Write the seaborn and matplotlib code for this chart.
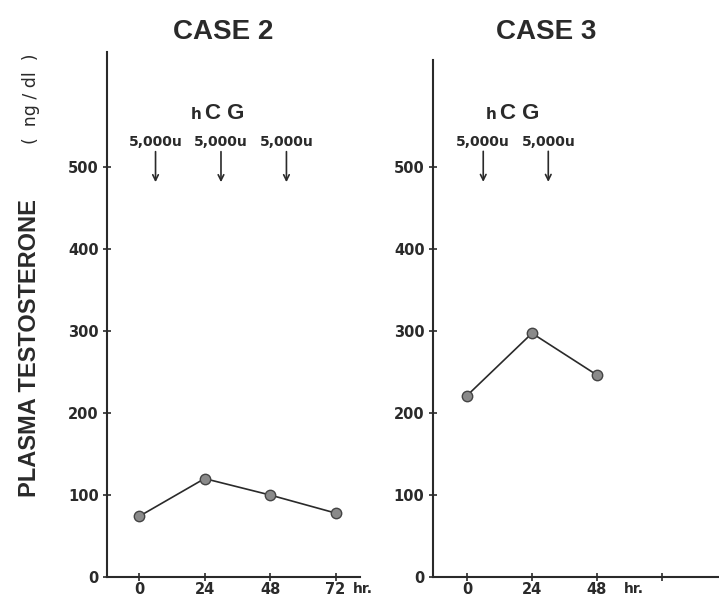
import matplotlib
matplotlib.use("Agg")
import matplotlib.pyplot as plt
import seaborn as sns
import pandas as pd

# Data
case2_hours = [0, 24, 48, 72]
case2_testo = [74, 120, 100, 78]
case3_hours = [0, 24, 48]
case3_testo = [221, 297, 246]
case2_doses = [6, 30, 54]
case3_doses = [6, 30]
dose_label = "5,000u"
yticks = [0, 100, 200, 300, 400, 500]
case2_xticks = [0, 24, 48, 72]
case2_xlabels = ["0", "24", "48", "72"]
case3_xticks = [0, 24, 48, 72]
case3_xlabels = ["0", "24", "48", ""]

sns.set_style("ticks")
plt.rcParams['font.family'] = ['DejaVu Sans']

cond = ['Liberation Sans', 'DejaVu Sans']
ink = "#2a2a2a"

fig = plt.figure(figsize=(7.19, 6.02), dpi=100)
ax1 = fig.add_axes([0.1488, 0.0415, 0.352, 0.872])
ax2 = fig.add_axes([0.602, 0.0415, 0.398, 0.859])

def style(ax, hours, vals, xticks, xlabels, xlim, ylim, doses, hr_x, hcg_x,
          title, title_x):
    df = pd.DataFrame({"hr": hours, "t": vals})
    sns.lineplot(data=df, x="hr", y="t", ax=ax, color=ink, lw=1.2,
                 marker="o", markersize=7.5, markerfacecolor="#8a8a8a",
                 markeredgecolor="#444444", markeredgewidth=1.0)
    ax.set_xlim(*xlim)
    ax.set_ylim(*ylim)
    ax.set_xticks(xticks)
    ax.set_xticklabels(xlabels)
    ax.set_yticks(yticks)
    ax.set_yticklabels([str(v) for v in yticks])
    ax.set_xlabel("")
    ax.set_ylabel("")
    for s in ["top", "right"]:
        ax.spines[s].set_visible(False)
    for s in ["left", "bottom"]:
        ax.spines[s].set_linewidth(1.5)
        ax.spines[s].set_color(ink)
    ax.tick_params(direction="inout", length=6, width=1.2, color=ink,
                   labelsize=10.5, labelcolor=ink)
    ax.tick_params(axis="x", pad=0.5)
    ax.tick_params(axis="y", pad=3)
    for lab in ax.get_xticklabels() + ax.get_yticklabels():
        lab.set_fontweight("bold")
    ax.annotate("hr.", xy=(hr_x, 0), xycoords=("data", "axes fraction"),
                xytext=(0, -3.5), textcoords="offset points",
                ha="left", va="top", fontsize=10, fontweight="bold", color=ink)
    for d in doses:
        ax.annotate("", xy=(d, 478), xytext=(d, 522),
                    arrowprops=dict(arrowstyle="->", color=ink, lw=1.2))
        ax.text(d, 530, dose_label, ha="center", va="center", fontsize=10,
                fontweight="bold", color=ink)
    ax.text(hcg_x - 1, 558, "h", ha="right", va="baseline", fontsize=11,
            fontweight="bold", color=ink)
    ax.text(hcg_x, 558, "C G", ha="left", va="baseline", fontsize=16,
            family=cond, fontweight="bold", color=ink)
    fig.text(title_x, 1 - 32 / 602, title, ha="center", va="center",
             fontsize=20, family=cond, fontweight="bold", color=ink)

style(ax1, case2_hours, case2_testo, case2_xticks, case2_xlabels,
      (-11.8, 81), (0, 640), case2_doses, 78.5, 24, "CASE 2", 223 / 719)
style(ax2, case3_hours, case3_testo, case3_xticks, case3_xlabels,
      (-12.6, 93), (0, 630), case3_doses, 58, 12, "CASE 3", 546 / 719)

fig.text(30 / 719, 1 - 348 / 602, "PLASMA TESTOSTERONE", rotation=90,
         ha="center", va="center", fontsize=17, family=cond,
         fontweight="bold", color=ink)
fig.text(31 / 719, 1 - 99 / 602, "(  ng / dl  )", rotation=90,
         ha="center", va="center", fontsize=12.5, color=ink)

fig.savefig("out.png", dpi=100, facecolor="white")
